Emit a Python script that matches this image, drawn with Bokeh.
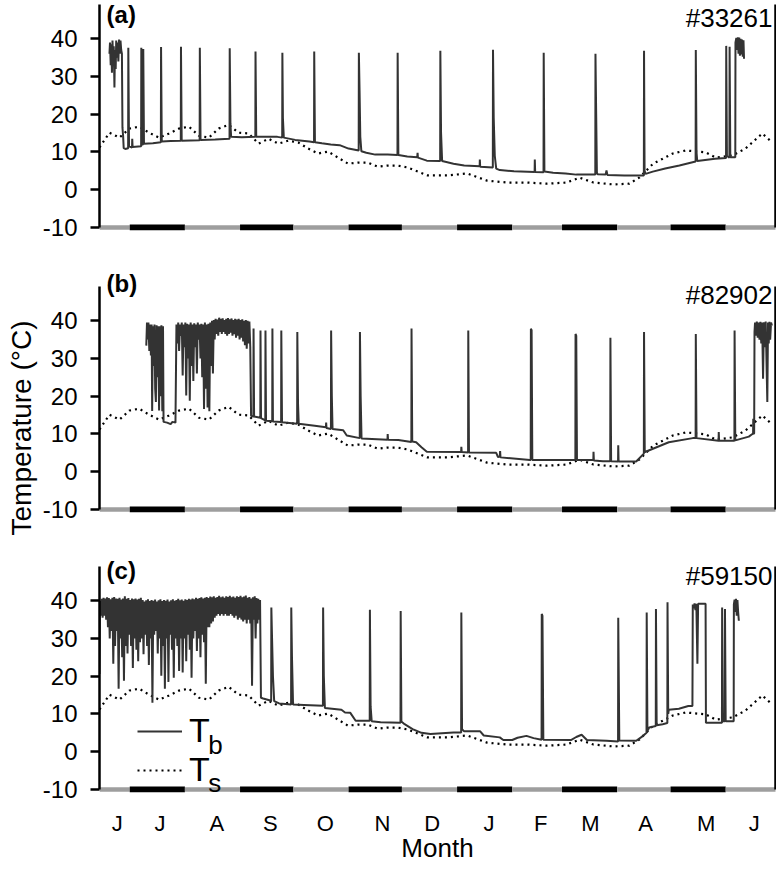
import math
from bokeh.plotting import figure
from bokeh.models import (Range1d, FixedTicker, Label, Legend, LegendItem, LinearAxis, Title)
from bokeh.layouts import column
from bokeh.embed import file_html
from bokeh.resources import INLINE

FONT = "Liberation Sans"

# ---------------- data ----------------
# x = days since 14 June
month_bounds = [0, 17, 48, 79, 109, 140, 170, 201, 232, 260, 291, 321, 352, 381]
bar_colors = ["#9e9e9e", "black"] * 6 + ["#9e9e9e"]
bar_widths = [4.5, 6] * 6 + [4.5]
month_tick_pos = [10, 34, 66, 96, 127, 159, 187, 219, 248, 276, 307, 341, 368]
month_letters = ["J", "J", "A", "S", "O", "N", "D", "J", "F", "M", "A", "M", "J"]
y_ticks = [-10, 0, 10, 20, 30, 40]

# soil temperature (Ts)
ts_day = [0, 5.6, 11.2, 16.8, 22.3, 27.9, 33.5, 39.1, 44.7, 50.3, 55.9, 61.5, 67.0, 72.6, 78.2,
          83.8, 89.4, 95.0, 100.6, 106.1, 111.7, 117.3, 122.9, 128.5, 134.1, 139.7, 145.3, 150.8,
          156.4, 162.0, 167.6, 173.2, 184.4, 195.5, 206.7, 217.9, 229.1, 240.2, 251.4, 262.6,
          269.8, 277.7, 288.8, 297.8, 303.4, 311.2, 322.3, 329.6, 340.8, 346.4, 355.9, 363.1,
          372.6, 378.2]
ts_val = [11.2, 15.1, 13.8, 16.2, 16.7, 15.1, 13.8, 14.9, 16.2, 16.7, 14.3, 13.8, 16.2, 17.2, 15.1,
          14.9, 12.2, 13.5, 12.2, 13.0, 12.5, 10.9, 9.6, 10.1, 8.5, 6.9, 7.2, 7.2, 6.1, 6.4, 6.4,
          5.9, 3.8, 3.8, 4.3, 2.4, 1.9, 1.9, 1.6, 1.9, 3.2, 1.9, 1.4, 1.6, 3.2, 6.9, 9.6, 10.4,
          9.9, 8.5, 9.1, 10.9, 14.9, 12.5]

# body temperature (Tb), panel (a) #33261
tb_a_points = [
    (5.6, 36), (5.9, 39), (6.3, 33), (6.6, 38.5), (7.0, 31), (7.3, 39.5), (7.7, 34), (8.0, 38),
    (8.4, 27.1), (8.7, 37), (9.1, 32), (9.4, 39.5), (9.8, 35), (10.2, 39), (10.6, 34), (11.0, 39.8),
    (11.4, 36), (11.8, 39.5), (12.2, 37), (12.6, 36), (12.9, 16.5), (13.3, 14), (13.6, 11),
    (14.5, 10.8), (16.1, 11), (16.2, 37.6), (16.6, 11.5), (18.3, 11.2), (18.4, 13.5), (18.6, 11.3),
    (23.4, 11.5), (23.5, 37.6), (23.9, 12), (24.5, 12), (24.6, 37.3), (25.0, 12.2), (30, 12.3),
    (34.5, 12.6), (34.6, 37.8), (35.0, 12.8), (40, 12.9), (45.7, 13), (45.8, 37.9), (46.2, 13),
    (56.3, 13.1), (56.4, 37.6), (56.8, 13.2), (65, 13.3), (73.1, 13.5), (73.2, 37.5), (73.6, 17.5),
    (74, 14), (80, 13.9), (87.6, 14), (87.7, 36.6), (88.1, 14), (95, 14), (100, 14), (102.7, 13.8),
    (102.8, 36.3), (103.1, 19), (103.6, 13.8), (110, 13.2), (118, 12.8), (120.6, 12.6),
    (120.7, 36.6), (121.1, 12.6), (125, 12.3), (130, 12), (135, 11.8), (140, 10.9), (145.7, 10.4),
    (145.8, 36.3), (146.2, 26), (146.6, 14), (147.2, 10.2), (150, 9.8), (155, 9.3), (162, 9.3),
    (167.5, 9.2), (167.6, 36.3), (168, 9.2), (173, 8.8), (178.6, 8.6), (178.8, 9.8), (179.0, 8.5),
    (184, 7.7), (191.5, 7.6), (191.6, 36.8), (192, 15), (192.6, 7.6), (199, 6.9), (205, 6.4),
    (213.7, 6.2), (213.8, 8), (214.0, 6.1), (221.1, 5.9), (221.2, 37.1), (221.6, 19), (222.2, 9),
    (223, 5.6), (225, 5.2), (233, 4.9), (244.6, 4.7), (244.7, 8), (244.9, 4.7), (249.6, 4.6),
    (249.7, 36.3), (250.1, 4.8), (255, 4.5), (262, 4.3), (268, 4.0), (278.7, 4.0), (278.8, 36.0),
    (279.2, 20), (279.6, 4.5), (280, 4.1), (284.5, 4.0), (285, 5.1), (285.5, 3.9), (295, 3.8),
    (306, 3.8), (306.1, 36.8), (306.4, 5), (307, 4.2), (311, 4.8), (318, 5.6), (326, 6.4),
    (335.1, 7.5), (335.2, 37.0), (335.6, 10), (336, 7.6), (346, 8.2), (352.2, 8.4), (352.3, 38.1),
    (352.7, 9), (354.1, 8.5), (354.2, 37.9), (354.6, 8.6), (357.4, 8.6), (357.5, 39), (358, 40.2),
    (358.4, 37), (358.8, 40.4), (359.2, 36), (359.6, 40.3), (360, 35.5), (360.4, 40), (360.8, 35.8),
    (361.2, 39.8), (361.6, 35.2), (362, 39.6), (362.3, 34.7)]

# panel (b) #82902
tb_b_start = [
    (26.3, 33.4), (26.7, 39.5), (27.1, 35), (27.5, 39.5), (28.0, 32), (28.4, 39), (28.9, 30.8),
    (29.3, 39), (29.6, 16.1), (30.0, 38.5), (30.5, 28), (30.9, 39), (31.3, 22), (31.7, 18.5),
    (32.1, 38.8), (32.5, 25), (32.9, 38.5), (33.5, 16.2), (33.9, 38.5), (34.4, 20), (34.8, 38.8),
    (35.3, 16.0), (35.7, 38.5), (36.0, 13.2), (38, 13), (40, 12.6), (41, 13.2), (42.7, 13.0)]
tb_b_dense_first_day = 43
tb_b_hi = [39.0, 39.5, 39.0, 39.5, 39.0, 39.5, 39.2, 39.0, 39.5, 39.0, 39.3, 39.0, 39.5, 39.0,
           39.2, 39.0, 39.5, 39.0, 39.2, 39.5, 40.0, 40.2, 40.5, 40.3, 40.8, 40.5, 40.6, 40.2,
           40.5, 40.7, 40.4, 40.6, 40.2, 40.5, 40.3, 40.5, 40.2, 40.4, 40.0, 40.2, 40.0, 39.8]
tb_b_lo = [34, 32, 36, 25.5, 33, 20.2, 30, 18.8, 28, 24, 33, 26, 35, 30, 25, 16.6, 22, 17, 16, 28,
           26, 35, 36.5, 36, 37, 36.5, 37, 36.5, 36, 36.5, 36.8, 36, 36.4, 35.5, 36, 35, 35.5,
           34.5, 33.5, 32.6, 34, 33]
tb_b_rest = [
    (85.2, 14.8), (86.5, 14.6), (86.6, 37.9), (86.9, 14.6), (90.4, 14.3), (90.5, 37.4), (90.8, 14.2),
    (93.2, 13.6), (93.3, 37.4), (93.6, 13.5), (97.1, 13.4), (97.2, 37.9), (97.5, 13.3), (102.1, 13.2),
    (102.2, 37.4), (102.6, 13.1), (111.1, 12.7), (111.2, 37.0), (111.6, 18), (112, 12.7), (121, 12.2),
    (127.3, 11.8), (127.4, 13), (127.6, 11.6), (130.1, 11.3), (130.2, 37.4), (130.6, 20), (131, 11.3),
    (137, 11), (139, 9.6), (146.3, 8.9), (146.4, 37.0), (146.8, 20), (147.3, 8.8), (161.9, 8.5),
    (162, 10), (162.2, 8.5), (168, 8.4), (175.3, 7.9), (175.4, 37.9), (175.8, 8), (178, 7.8),
    (181, 6.5), (184, 5.3), (203.3, 5.2), (203.4, 6.6), (203.6, 5.2), (207.2, 5.1), (207.3, 37.4),
    (207.7, 5.1), (223, 5.0), (224, 3.9), (225, 4.0), (225.2, 5.5), (225.4, 3.8), (242, 3.1),
    (242.4, 3.1), (242.5, 37.9), (242.9, 37.5), (243.3, 3.1), (262, 3.1), (267.5, 3.1), (267.6, 36.5),
    (268, 36), (268.4, 3.1), (277.6, 3.1), (277.7, 5.3), (277.9, 3.0), (283, 2.8), (287.1, 2.8),
    (287.2, 35.5), (287.6, 2.8), (291.5, 2.7), (291.6, 7), (291.8, 2.7), (301.7, 2.7), (306, 4.8),
    (306.1, 37.0), (306.5, 5.2), (307, 5.3), (320, 7.8), (333.5, 8.9), (335.1, 8.9), (335.2, 36.5),
    (335.6, 8.9), (348, 8.2), (348.1, 10.5), (348.3, 8.2), (356.9, 8.2), (357.0, 37.4), (357.4, 8.3),
    (365, 9.3), (367, 10), (367.4, 10), (367.5, 14), (367.7, 10), (368, 10.2), (368.2, 37),
    (368.5, 39.5), (369, 36), (369.5, 39.8), (370, 35.5), (370.5, 39.5), (371, 35), (371.5, 39.7),
    (372, 34), (372.5, 39.5), (373, 24.6), (373.5, 39.6), (374, 33), (374.5, 39.8), (375.4, 18.5),
    (375.8, 39.5), (376.2, 34), (376.6, 39.7), (377, 35), (377.5, 39.5), (378, 38.7)]

# panel (c) #59150
tb_c_start = [(0.0, 20.6)]
tb_c_hi = [40.0, 40.5, 40.8, 40.6, 40.9, 40.7, 40.4, 40.8, 41.0, 40.6,
           40.5, 40.8, 40.3, 40.6, 41.2, 40.5, 40.7, 40.2, 40.6, 40.4,
           40.6, 40.3, 40.5, 40.8, 40.2, 39.8, 40.1, 40.4, 39.9, 40.2,
           40.0, 40.3, 39.8, 40.1, 40.4, 39.9, 40.2, 40.0, 40.3, 39.8,
           40.1, 40.4, 40.0, 40.2, 40.5, 40.1, 40.3, 40.0, 40.4, 40.2,
           40.5, 40.3, 40.6, 40.4, 40.8, 40.5, 40.7, 40.9, 40.6, 40.8,
           41.0, 40.7, 41.1, 40.9, 41.2, 40.8, 41.0, 41.3, 40.9, 41.1,
           40.8, 41.2, 41.0, 41.3, 40.9, 41.1, 40.8, 41.2, 41.0, 41.3,
           40.9, 41.1, 41.4, 40.8, 41.0, 40.6, 40.9, 41.2, 40.7, 40.5, 40.2]
tb_c_lo = [36.0, 35.5, 36.0, 35.0, 33.0, 30.0, 32.0, 23.3, 28.0, 32.0,
           16.7, 30.0, 25.0, 18.8, 28.0, 26.0, 31.0, 28.0, 22.2, 30.0,
           27.0, 24.0, 29.0, 30.0, 25.8, 31.0, 28.0, 23.0, 30.0, 13.0,
           31.0, 32.0, 26.0, 30.0, 20.1, 28.0, 16.7, 30.0, 18.5, 31.0,
           27.0, 19.6, 30.0, 28.0, 21.4, 30.0, 21.0, 30.0, 24.0, 31.0,
           27.0, 19.6, 30.0, 32.0, 26.7, 30.0, 25.0, 31.0, 29.0, 18.0,
           33.0, 33.0, 34.0, 34.5, 35.5, 36.0, 36.5, 36.0, 36.5, 36.0,
           36.5, 36.0, 36.0, 36.5, 36.0, 35.5, 36.0, 35.0, 35.5, 35.0,
           34.5, 35.0, 34.0, 35.0, 34.0, 17.5, 35.0, 30.0, 34.0, 35.0, 14.3]
tb_c_rest = [
    (92, 14.1), (96.5, 13.5), (96.6, 38.2), (97.0, 30), (97.5, 20), (98.2, 13.4), (101, 12.8),
    (107.7, 12.5), (107.8, 38.2), (108.2, 25), (108.8, 12.5), (115, 12.4), (125.6, 12.2),
    (125.7, 38.2), (126.1, 20), (126.7, 11.6), (136, 11.1), (138, 10.4), (141, 10.3), (144, 8.2),
    (151.9, 8.2), (152.0, 37.6), (152.4, 12), (153, 8.1), (158, 7.8), (169.2, 7.7), (169.3, 37.3),
    (169.7, 8), (171.5, 7.3), (176, 6), (181, 5), (186, 4.7), (199, 5.1), (203.3, 5.1),
    (203.4, 36.9), (203.8, 6), (205, 5.4), (214, 5.4), (216, 4.3), (225, 3.8), (227, 3.1),
    (232, 3.1), (235, 3.7), (240, 4.2), (244, 3.6), (248.5, 3.2), (248.6, 36.5), (249.0, 36.0),
    (249.5, 3.2), (265, 3.1), (268, 3.9), (271, 4.5), (274, 3.1), (285, 2.9), (291.5, 2.7),
    (291.6, 35.5), (292.2, 3.0), (301.7, 2.9), (305.6, 4.2), (307.5, 5.0), (307.6, 36.9),
    (308.0, 5.5), (309, 6.4), (312.7, 6.8), (312.8, 37.8), (313.2, 7), (316.6, 7.3), (319.2, 7.6),
    (319.3, 39.6), (319.7, 10), (320, 11.1), (325.7, 11.4), (331, 12.1), (333.3, 12.1),
    (333.5, 39), (334, 38), (334.5, 39.3), (335, 37.5), (335.5, 39.2), (336.1, 23.3),
    (336.5, 39.2), (340.7, 39.2), (340.9, 7.7), (349.9, 7.7), (350.0, 38.2), (350.4, 8.1),
    (351.5, 8.1), (351.6, 37.8), (352.0, 8.1), (356.5, 8.1), (356.6, 39), (357, 40.3),
    (357.4, 37), (357.8, 40.5), (358.2, 36), (358.6, 40.2), (359, 37), (359.4, 34.7)]

animal_ids = ["#33261", "#82902", "#59150"]
panel_tags = ["(a)", "(b)", "(c)"]


def dense(first_day, hi, lo):
    pts = []
    for i, (h, l) in enumerate(zip(hi, lo)):
        pts.append((first_day + i + 0.25, h))
        pts.append((first_day + i + 0.75, l))
    return pts


series_a = tb_a_points
series_b = tb_b_start + dense(tb_b_dense_first_day, tb_b_hi, tb_b_lo) + tb_b_rest
series_c = tb_c_start + dense(0, tb_c_hi, tb_c_lo) + tb_c_rest


def make_panel(series, height, y_top, b_bottom, show_x, tag, tag_y, ident, ident_y):
    p = figure(width=776, height=height, output_backend="svg", toolbar_location=None,
               title=None, x_range=Range1d(0, 380), y_range=Range1d(-10.8, y_top),
               x_axis_location="below" if show_x else None,
               min_border_left=97, min_border_right=1,
               min_border_top=0, min_border_bottom=b_bottom)
    p.outline_line_color = None
    p.grid.visible = False
    p.background_fill_color = "white"
    p.border_fill_color = "white"

    ax = p.yaxis[0]
    ax.ticker = FixedTicker(ticks=y_ticks)
    ax.major_label_overrides = {-10: "-10"}
    ax.bounds = (-10, 49)
    ax.axis_line_width = 2.5
    ax.axis_line_color = "black"
    ax.major_tick_line_width = 2.5
    ax.major_tick_line_color = "black"
    ax.major_tick_out = 9
    ax.major_tick_in = 0
    ax.minor_tick_line_color = None
    ax.major_label_text_font = FONT
    ax.major_label_text_font_size = "24px"
    ax.major_label_text_color = "black"
    ax.major_label_standoff = 13

    # right frame line
    right = LinearAxis(ticker=FixedTicker(ticks=[]), bounds=(-10, 49),
                       axis_line_width=2.5, axis_line_color="black",
                       major_tick_out=0, major_tick_in=0, minor_tick_out=0, minor_tick_in=0,
                       major_label_standoff=0, major_label_text_font_size="0px",
                       major_tick_line_color=None, minor_tick_line_color=None)
    p.add_layout(right, "right")

    if show_x:
        xa = p.xaxis[0]
        xa.ticker = FixedTicker(ticks=month_tick_pos)
        xa.major_label_overrides = {t: m for t, m in zip(month_tick_pos, month_letters)}
        xa.axis_line_color = None
        xa.major_tick_line_color = None
        xa.minor_tick_line_color = None
        xa.major_tick_out = 0
        xa.major_tick_in = 0
        xa.minor_tick_out = 0
        xa.major_label_text_font = FONT
        xa.major_label_text_font_size = "22px"
        xa.major_label_text_color = "black"
        xa.major_label_standoff = 18
        xa.axis_label = "Month"
        xa.axis_label_text_font = FONT
        xa.axis_label_text_font_size = "26px"
        xa.axis_label_text_font_style = "normal"
        xa.axis_label_text_color = "black"
        xa.axis_label_standoff = -6

    # month indicator bar
    p.segment(x0=month_bounds[:-1], x1=month_bounds[1:],
              y0=[-10] * (len(month_bounds) - 1), y1=[-10] * (len(month_bounds) - 1),
              line_color=bar_colors, line_width=bar_widths)

    ts_r = p.line(ts_day, ts_val, line_color="black", line_width=2.2, line_dash="2 4")
    days = [d for d, _ in series]
    vals = [v for _, v in series]
    tb_r = p.line(days, vals, line_color="#333333", line_width=2)

    p.add_layout(Label(x=4, y=tag_y, text=tag, text_font=FONT, text_font_size="24px",
                       text_font_style="bold", text_baseline="top", text_align="left",
                       text_color="black"))
    p.add_layout(Label(x=378.3, y=ident_y, text=ident, text_font=FONT, text_font_size="26px",
                       text_baseline="top", text_align="right", text_color="black"))
    return p, tb_r, ts_r


pa, _, _ = make_panel(series_a, 269, 50.12, 39, False, panel_tags[0], 50.12, animal_ids[0], 49.57)
pb, _, _ = make_panel(series_b, 287, 53.56, 44, False, panel_tags[1], 53.56, animal_ids[1], 50.65)
pc, tb_c_r, ts_c_r = make_panel(series_c, 310, 51.71, 74, True, panel_tags[2], 51.71,
                                animal_ids[2], 50.65)

# y-axis title for the whole figure, placed beside the middle panel
pb.add_layout(Title(text="Temperature (°C)", align="left", offset=-23, standoff=6,
                    text_font=FONT, text_font_size="28px", text_font_style="normal",
                    text_color="black"), "left")

# legend in panel (c)
legend = Legend(items=[LegendItem(label="T", renderers=[tb_c_r]),
                       LegendItem(label="T", renderers=[ts_c_r])],
                location=(38, 3), orientation="vertical", glyph_width=45, glyph_height=38,
                label_height=38, label_standoff=7, spacing=0, padding=0, margin=0,
                border_line_color=None, background_fill_alpha=0,
                label_text_font=FONT, label_text_font_size="34px",
                label_text_line_height=1.0, label_text_color="black")
pc.add_layout(legend)
pc.add_layout(Label(x=61.1, y=1.65, text="b", text_font=FONT, text_font_size="26px",
                    text_baseline="alphabetic", text_align="left", text_color="black"))
pc.add_layout(Label(x=61.1, y=-8.4, text="s", text_font=FONT, text_font_size="26px",
                    text_baseline="alphabetic", text_align="left", text_color="black"))

layout = column(pa, pb, pc)
open("out.html", "w").write(file_html(layout, INLINE))
